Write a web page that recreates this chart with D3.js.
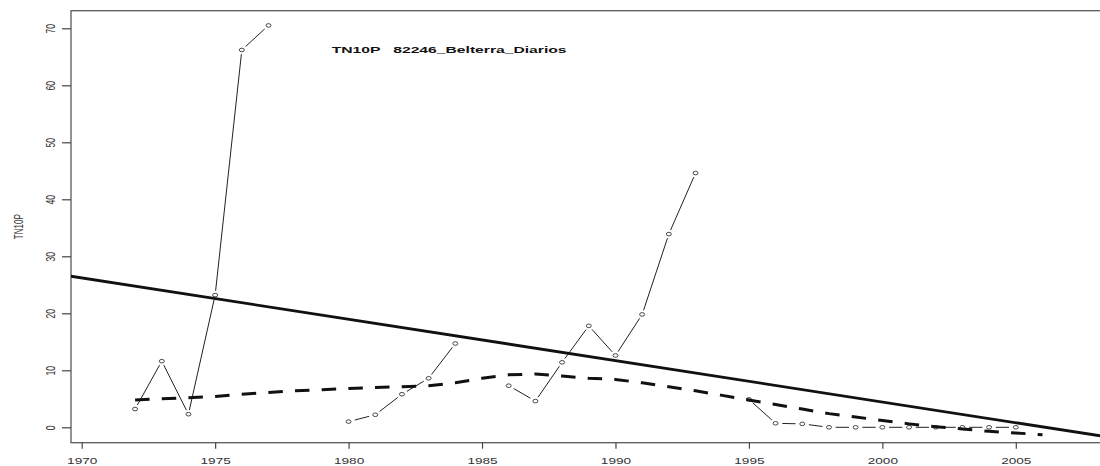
<!DOCTYPE html>
<html><head><meta charset="utf-8">
<script src="https://cdn.jsdelivr.net/npm/d3@7"></script>
<style>html,body{margin:0;padding:0;background:#fff;} svg{display:block;}</style>
</head><body>
<svg id="chart" width="1100" height="466"></svg>
<script>
// ---- data ----
const years = [1972,1973,1974,1975,1976,1977,1978,1979,1980,1981,1982,1983,1984,1985,1986,1987,1988,1989,1990,1991,1992,1993,1994,1995,1996,1997,1998,1999,2000,2001,2002,2003,2004,2005];
const tn10p = [3.2,11.6,2.3,23.2,66.2,70.5,null,null,1.0,2.2,5.8,8.6,14.7,null,7.3,4.6,11.4,17.8,12.6,19.8,33.9,44.6,null,4.9,0.7,0.6,0,0,0,0,0,0,0,0];
const loessYears = [1972,1973,1974,1975,1976,1977,1978,1979,1980,1981,1982,1983,1984,1985,1986,1987,1988,1989,1990,1991,1992,1993,1994,1995,1996,1997,1998,1999,2000,2001,2002,2003,2004,2005,2006];
const loessValues = [4.8,5.0,5.2,5.4,5.8,6.1,6.4,6.6,6.8,7.0,7.1,7.3,7.8,8.6,9.2,9.35,9.0,8.6,8.4,7.8,7.1,6.4,5.6,4.8,4.0,3.2,2.4,1.8,1.2,0.6,0.1,-0.3,-0.7,-1.0,-1.3];
const trendYears = [1969, 2009];
const trendValues = [26.94, -2.1];
const xTicks = [1970,1975,1980,1985,1990,1995,2000,2005];
const yTicks = [0,10,20,30,40,50,60,70];
const chartTitle = "TN10P   82246_Belterra_Diarios";
const yTitle = "TN10P";

// ---- layout ----
const SX = 1.6; // horizontal stretch of the original picture
const box = {left:71, top:10.7, bottom:442.7, right:1112};
const FONT = "'Liberation Sans', Arial, sans-serif";

const svg = d3.select("#chart");
const x = d3.scaleLinear().domain([1970,2005]).range([81.7,1015.8]);
const y = d3.scaleLinear().domain([0,70]).range([427.3,28.3]);

svg.append("defs").append("clipPath").attr("id","plotclip")
  .append("rect").attr("x",box.left).attr("y",box.top)
  .attr("width",1100-box.left).attr("height",box.bottom-box.top);

// box
svg.append("rect").attr("x",box.left).attr("y",box.top)
  .attr("width",box.right-box.left).attr("height",box.bottom-box.top)
  .attr("fill","none").attr("stroke","#5a5a5a").attr("stroke-width",1.3);

// x axis
const gx = svg.append("g").attr("transform",`translate(0,${box.bottom})`)
  .call(d3.axisBottom(x).tickValues(xTicks).tickSize(6).tickSizeOuter(0).tickFormat(d3.format("d")));
gx.select(".domain").remove();
gx.selectAll(".tick line").attr("stroke","#444").attr("stroke-width",1.2);
gx.selectAll(".tick text").attr("y",null).attr("dy",null)
  .attr("transform",`translate(0,${464.3-box.bottom}) scale(${SX},1)`)
  .attr("font-family",FONT).attr("font-size",8.5).attr("fill","#333").attr("text-anchor","middle");

// y axis
const gy = svg.append("g").attr("transform",`translate(${box.left},0)`)
  .call(d3.axisLeft(y).tickValues(yTicks).tickSize(9).tickSizeOuter(0));
gy.select(".domain").remove();
gy.selectAll(".tick line").attr("stroke","#444").attr("stroke-width",1.2);
gy.selectAll(".tick text").attr("x",null).attr("dy",null)
  .attr("transform",`translate(-16,0) scale(${SX},1) rotate(-90)`)
  .attr("font-family",FONT).attr("font-size",8.5).attr("fill","#333").attr("text-anchor","middle");

// y title
svg.append("text").attr("transform",`translate(23,${(box.top+box.bottom)/2}) scale(${SX},1) rotate(-90)`)
  .attr("text-anchor","middle").attr("font-family",FONT).attr("font-size",8).attr("fill","#333")
  .text(yTitle);

// chart title
svg.append("text").attr("transform",`translate(331.7,53.3) scale(${SX},1)`)
  .attr("font-family",FONT).attr("font-size",9.8).attr("font-weight","bold").attr("fill","#111")
  .style("white-space","pre").text(chartTitle);

// series (type "b": points with gapped lines)
const pts = years.map((yr,i)=>({yr, v:tn10p[i]}));
const GAP = 4.2;
const segs = [];
for (let i=0;i<pts.length-1;i++){
  const a=pts[i], b=pts[i+1];
  if (a.v==null || b.v==null) continue;
  const x1=x(a.yr), y1=y(a.v), x2=x(b.yr), y2=y(b.v);
  const ux=(x2-x1)/SX, uy=(y2-y1);
  const L=Math.hypot(ux,uy);
  if (L<=2*GAP) continue;
  const fx=ux/L, fy=uy/L;
  segs.push({x1:x1+fx*GAP*SX, y1:y1+fy*GAP, x2:x2-fx*GAP*SX, y2:y2-fy*GAP});
}
svg.append("g").selectAll("line").data(segs).join("line")
  .attr("x1",d=>d.x1).attr("y1",d=>d.y1).attr("x2",d=>d.x2).attr("y2",d=>d.y2)
  .attr("stroke","#222").attr("stroke-width",1);
svg.append("g").selectAll("ellipse").data(pts.filter(p=>p.v!=null)).join("ellipse")
  .attr("cx",d=>x(d.yr)).attr("cy",d=>y(d.v)).attr("rx",2.5).attr("ry",1.8)
  .attr("fill","none").attr("stroke","#333").attr("stroke-width",0.9);

// trend line
svg.append("path").attr("clip-path","url(#plotclip)")
  .attr("d", d3.line().x(d=>x(d[0])).y(d=>y(d[1]))(trendYears.map((t,i)=>[t,trendValues[i]])))
  .attr("stroke","#111").attr("stroke-width",2.8).attr("fill","none");

// loess dashed line
svg.append("path").attr("clip-path","url(#plotclip)")
  .attr("d", d3.line().x(d=>x(d[0])).y(d=>y(d[1]))(loessYears.map((t,i)=>[t,loessValues[i]])))
  .attr("stroke","#111").attr("stroke-width",3).attr("fill","none")
  .attr("stroke-dasharray","14.5,12.2");
</script>
</body></html>
